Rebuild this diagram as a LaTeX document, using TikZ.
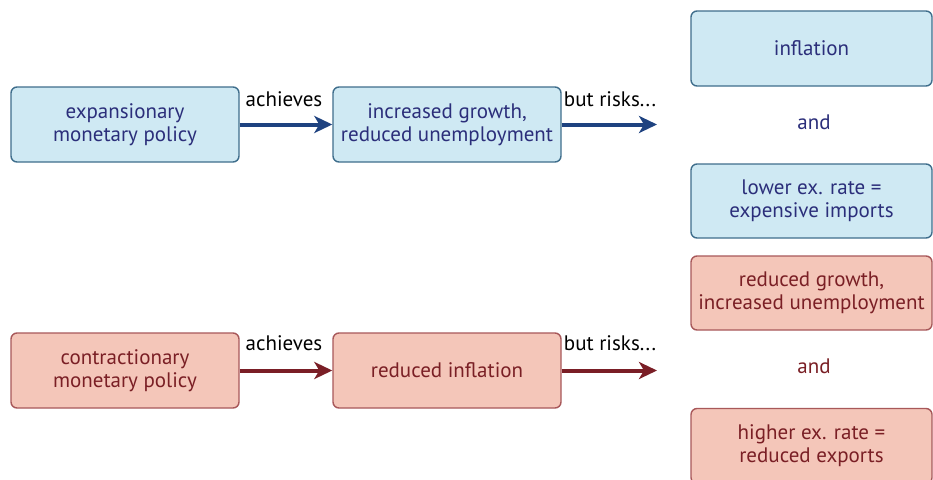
\documentclass[tikz,border=0pt]{standalone}
\usepackage{fontspec}
\setmainfont{PT Sans}
\usetikzlibrary{arrows.meta}
\definecolor{bfill}{HTML}{CFE9F3}
\definecolor{bdraw}{HTML}{3F6E8C}
\definecolor{btext}{HTML}{2B2E7A}
\definecolor{barrow}{HTML}{1E4280}
\definecolor{rfill}{HTML}{F4C6B9}
\definecolor{rdraw}{HTML}{A8585A}
\definecolor{rtext}{HTML}{7A1F25}
\definecolor{rarrow}{HTML}{7A1E26}
\tikzset{
  box/.style={rounded corners=6pt, line width=1.4pt, align=center,
    font=\fontsize{21}{23}\selectfont, inner sep=0pt},
  bluebox/.style={box, fill=bfill, draw=bdraw, text=btext},
  redbox/.style={box, fill=rfill, draw=rdraw, text=rtext},
  lbl/.style={font=\fontsize{21}{23}\selectfont, inner sep=0pt},
  bluearrow/.style={draw=barrow, line width=4pt, -{Stealth[length=18pt,width=17pt,inset=5pt]}},
  redarrow/.style={draw=rarrow, line width=4pt, -{Stealth[length=18pt,width=17pt,inset=5pt]}},
}
\begin{document}
\begin{tikzpicture}[x=1pt,y=-1pt]
\useasboundingbox (0,0) rectangle (933,479);
\clip (0,0) rectangle (933,479);
\fill[white] (0,0) rectangle (933,479);
% top row
\node[bluebox, minimum width=228pt, minimum height=75pt] (exp) at (125,124.5) {expansionary\\monetary policy};
\node[bluebox, minimum width=228pt, minimum height=75pt] (inc) at (447,124.5) {increased growth,\\reduced unemployment};
\node[bluebox, minimum width=241pt, minimum height=75pt] (infl) at (811.5,48.5) {inflation};
\node[lbl, text=btext] (and1) at (814,122) {and};
\node[bluebox, minimum width=241pt, minimum height=74pt] (lower) at (811.5,201) {lower ex. rate =\\expensive imports};
\coordinate (tend) at (657,124.5);
\draw[bluearrow] (exp.east) -- (inc.west);
\draw[bluearrow] (inc.east) -- (tend);
\node[lbl] (ach1) at (284,99) {achieves};
\node[lbl] (risk1) at (610,99) {but risks...};
% bottom row
\node[redbox, minimum width=228pt, minimum height=75pt] (con) at (125,370.5) {contractionary\\monetary policy};
\node[redbox, minimum width=228pt, minimum height=75pt] (redinf) at (447,370.5) {reduced inflation};
\node[redbox, minimum width=241pt, minimum height=74pt] (redg) at (811.5,293) {reduced growth,\\increased unemployment};
\node[lbl, text=rtext] (and2) at (814,366) {and};
\node[redbox, minimum width=241pt, minimum height=75pt] (higher) at (811.5,446) {higher ex. rate =\\reduced exports};
\coordinate (bend) at (657,370.5);
\draw[redarrow] (con.east) -- (redinf.west);
\draw[redarrow] (redinf.east) -- (bend);
\node[lbl] (ach2) at (284,343) {achieves};
\node[lbl] (risk2) at (610,343) {but risks...};
\end{tikzpicture}
\end{document}
